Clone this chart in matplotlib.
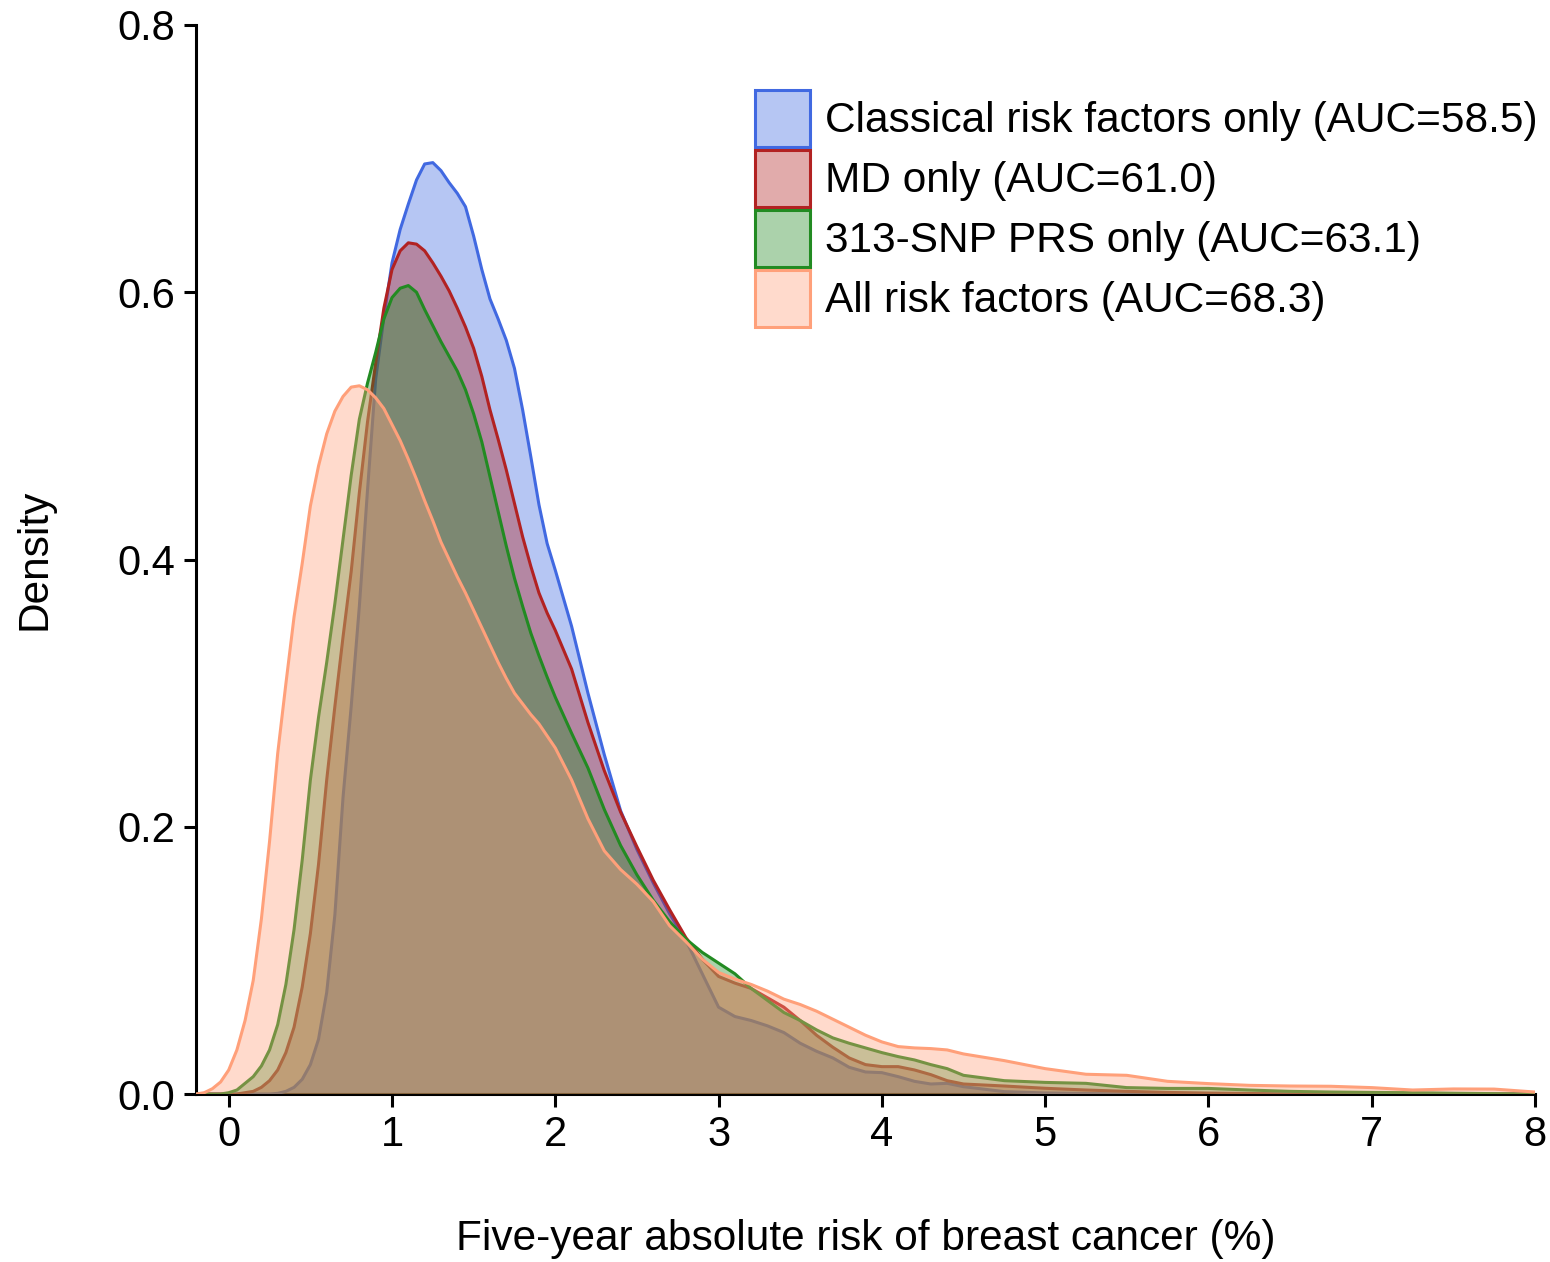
import matplotlib
matplotlib.use("Agg")
import matplotlib.pyplot as plt
from matplotlib.patches import Patch
import numpy as np

plt.rcParams['font.family'] = ['Liberation Sans', 'DejaVu Sans']

# x grid (five-year risk, %): finer where the curves bend most
x_head = np.round(np.arange(-0.2, 2.001, 0.05), 2)
x_mid = np.round(np.arange(2.1, 4.501, 0.1), 2)
x_tail = np.arange(4.75, 8.01, 0.25)
risk = np.concatenate([x_head, x_mid, x_tail])

# densities
classical = [0, 0, 0, 0, 0, 0, 0, 0,
             0, 0, 0.0005, 0.002, 0.005, 0.011, 0.022, 0.041, 0.076, 0.134,
             0.222, 0.290, 0.365, 0.452, 0.535, 0.581, 0.622, 0.647, 0.666, 0.684,
             0.696, 0.697, 0.691, 0.682, 0.674, 0.664, 0.642, 0.617, 0.595, 0.580,
             0.564, 0.543, 0.512, 0.477, 0.441, 0.412, 0.392,
             0.350, 0.300, 0.254, 0.212, 0.183, 0.158, 0.135, 0.115, 0.090, 0.065,
             0.058, 0.055, 0.051, 0.046, 0.038, 0.032, 0.027, 0.020, 0.0165, 0.016,
             0.013, 0.0095, 0.0075, 0.008, 0.0055,
             0.0018, 0.0008, 0.0004, 0, 0, 0, 0, 0, 0, 0, 0, 0, 0, 0]
md_only = [0, 0, 0, 0,
           0, 0, 0.001, 0.002, 0.005, 0.010, 0.018, 0.031, 0.050, 0.080,
           0.120, 0.172, 0.235, 0.290, 0.342, 0.391, 0.450, 0.503, 0.547, 0.588,
           0.617, 0.631, 0.637, 0.636, 0.631, 0.622, 0.612, 0.601, 0.588, 0.574,
           0.558, 0.537, 0.512, 0.490, 0.467, 0.442, 0.417, 0.395, 0.375, 0.360, 0.347,
           0.318, 0.278, 0.242, 0.211, 0.185, 0.160, 0.138, 0.117, 0.101, 0.088,
           0.083, 0.079, 0.072, 0.065, 0.055, 0.044, 0.035, 0.027, 0.022, 0.0205,
           0.0205, 0.018, 0.0145, 0.010, 0.0075,
           0.006, 0.0043, 0.003, 0.002, 0.0012, 0.0007, 0.0004, 0, 0, 0, 0, 0, 0, 0]
prs_only = [0, 0, 0, 0,
            0.001, 0.003, 0.008, 0.013, 0.021, 0.033, 0.052, 0.082, 0.123, 0.175,
            0.235, 0.282, 0.323, 0.367, 0.415, 0.463, 0.505, 0.532, 0.555, 0.580,
            0.596, 0.603, 0.605, 0.600, 0.587, 0.575, 0.563, 0.552, 0.541, 0.527,
            0.509, 0.488, 0.462, 0.436, 0.410, 0.386, 0.365, 0.345, 0.328, 0.312, 0.297,
            0.270, 0.244, 0.213, 0.186, 0.164, 0.145, 0.129, 0.116, 0.106, 0.098,
            0.090, 0.079, 0.070, 0.061, 0.055, 0.048, 0.042, 0.038, 0.0345, 0.031,
            0.028, 0.0255, 0.022, 0.019, 0.014,
            0.010, 0.0087, 0.008, 0.0048, 0.0042, 0.0042, 0.003, 0.002, 0.0015,
            0.0012, 0.001, 0.0006, 0.0003, 0]
all_factors = [0, 0.001, 0.004, 0.009,
               0.018, 0.033, 0.055, 0.085, 0.131, 0.189, 0.255, 0.307, 0.357, 0.397,
               0.440, 0.470, 0.494, 0.511, 0.522, 0.529, 0.530, 0.527, 0.521, 0.513,
               0.501, 0.489, 0.475, 0.460, 0.444, 0.429, 0.413, 0.400, 0.387, 0.375,
               0.362, 0.349, 0.336, 0.323, 0.311, 0.300, 0.292, 0.284, 0.277, 0.268, 0.259,
               0.235, 0.206, 0.182, 0.168, 0.157, 0.144, 0.126, 0.114, 0.101, 0.091,
               0.086, 0.082, 0.077, 0.071, 0.067, 0.062, 0.056, 0.050, 0.044, 0.039,
               0.0355, 0.0345, 0.034, 0.033, 0.030,
               0.025, 0.019, 0.0148, 0.014, 0.0095, 0.0078, 0.0065, 0.006, 0.0058,
               0.0048, 0.003, 0.0038, 0.0037, 0.0015]

labels = ["Classical risk factors only (AUC=58.5)", "MD only (AUC=61.0)",
          "313-SNP PRS only (AUC=63.1)", "All risk factors (AUC=68.3)"]
colors = ["royalblue", "firebrick", "forestgreen", "lightsalmon"]
series = [classical, md_only, prs_only, all_factors]

fig = plt.figure(figsize=(15.5, 12.62), dpi=100)
ax = fig.add_axes([0.1265, 0.1331, 0.8638, 0.8471])

handles = []
for i, (vals, col, lab) in enumerate(zip(series, colors, labels)):
    ax.fill_between(risk, vals, 0, facecolor=col, alpha=0.38, linewidth=0, zorder=2 + 2 * i)
    ax.plot(risk, vals, color=col, lw=2.2, zorder=3 + 2 * i, solid_joinstyle="round")
    handles.append(Patch(facecolor=matplotlib.colors.to_rgba(col, 0.38), edgecolor=col,
                         linewidth=2.2, label=lab))

ax.set_xlim(-0.2, 8)
ax.set_ylim(0, 0.8)
ax.set_xticks(range(0, 9))
ax.set_yticks([0, 0.2, 0.4, 0.6, 0.8])
ax.set_yticklabels(["0.0", "0.2", "0.4", "0.6", "0.8"])
for s in ["top", "right"]:
    ax.spines[s].set_visible(False)
for s in ["left", "bottom"]:
    ax.spines[s].set_linewidth(2.2)
ax.tick_params(width=2.2, length=9, labelsize=30, pad=6)
ax.set_xlabel("Five-year absolute risk of breast cancer (%)", fontsize=30.5, labelpad=46)
ax.set_ylabel("Density", fontsize=30.5, labelpad=45)

ax.legend(handles=handles, loc="upper left", bbox_to_anchor=(0.4175, 0.939), frameon=False,
          fontsize=30.5, handlelength=1.3, handleheight=1.69, labelspacing=0.07,
          handletextpad=0.35, borderaxespad=0, borderpad=0)

fig.savefig("out.png", dpi=100)
